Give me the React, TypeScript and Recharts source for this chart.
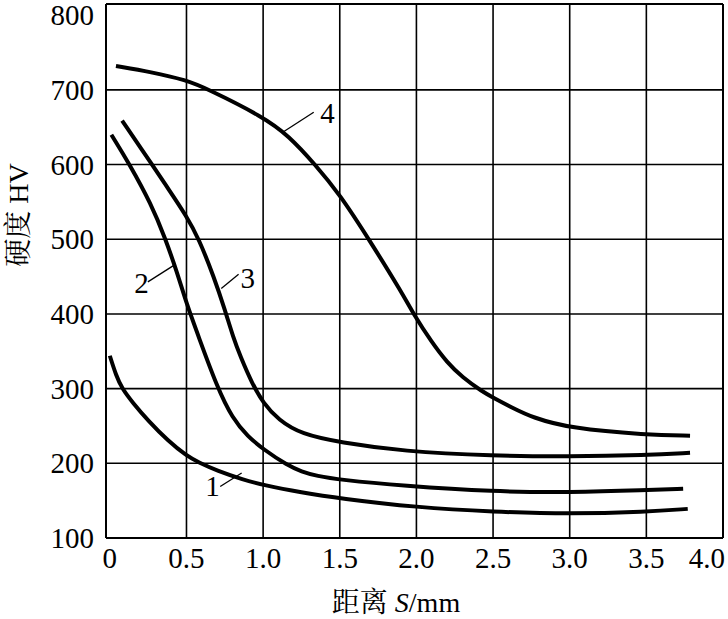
import React from 'react';
import { LineChart, Line, XAxis, YAxis, ReferenceLine, ReferenceDot } from 'recharts';

// Hardness HV vs distance S (mm)
const curve1 = [
  { s: 0, hv: 344 }, { s: 0.04, hv: 318 }, { s: 0.08, hv: 300 }, { s: 0.15, hv: 281 },
  { s: 0.25, hv: 257 }, { s: 0.38, hv: 230 }, { s: 0.5, hv: 210 }, { s: 0.58, hv: 201 },
  { s: 0.7, hv: 190 }, { s: 0.87, hv: 178 }, { s: 1.0, hv: 171 }, { s: 1.25, hv: 161 },
  { s: 1.5, hv: 153 }, { s: 2.0, hv: 141 }, { s: 2.5, hv: 135 }, { s: 3.0, hv: 132 },
  { s: 3.5, hv: 135 }, { s: 3.77, hv: 139 },
];
const curve2 = [
  { s: 0.01, hv: 640 }, { s: 0.13, hv: 600 }, { s: 0.27, hv: 547 }, { s: 0.36, hv: 502 },
  { s: 0.44, hv: 455 }, { s: 0.5, hv: 414 }, { s: 0.58, hv: 369 }, { s: 0.7, hv: 302 },
  { s: 0.8, hv: 260 }, { s: 0.9, hv: 236 }, { s: 1.0, hv: 219 }, { s: 1.16, hv: 197 },
  { s: 1.25, hv: 189 }, { s: 1.35, hv: 183 }, { s: 1.5, hv: 178 }, { s: 1.91, hv: 170 },
  { s: 2.5, hv: 162 }, { s: 3.0, hv: 161 }, { s: 3.5, hv: 164 }, { s: 3.74, hv: 166 },
];
const curve3 = [
  { s: 0.08, hv: 659 }, { s: 0.275, hv: 600 }, { s: 0.38, hv: 568 }, { s: 0.5, hv: 531 },
  { s: 0.58, hv: 501 }, { s: 0.68, hv: 449 }, { s: 0.75, hv: 406 }, { s: 0.806, hv: 368 },
  { s: 0.85, hv: 344 }, { s: 0.93, hv: 306 }, { s: 1.0, hv: 281 }, { s: 1.1, hv: 258 },
  { s: 1.25, hv: 239 }, { s: 1.5, hv: 228 }, { s: 1.91, hv: 216 }, { s: 2.5, hv: 210 },
  { s: 3.0, hv: 209 }, { s: 3.5, hv: 211 }, { s: 3.785, hv: 214 },
];
const curve4 = [
  { s: 0.04, hv: 732 }, { s: 0.27, hv: 724 }, { s: 0.5, hv: 713 }, { s: 0.63, hv: 702 },
  { s: 1.0, hv: 664 }, { s: 1.165, hv: 639 }, { s: 1.34, hv: 600 }, { s: 1.5, hv: 560 },
  { s: 1.69, hv: 500 }, { s: 1.91, hv: 427 }, { s: 1.98, hv: 400 }, { s: 2.1, hv: 362 },
  { s: 2.2, hv: 335 }, { s: 2.3, hv: 315 }, { s: 2.43, hv: 296 }, { s: 2.5, hv: 288 },
  { s: 2.62, hv: 275 }, { s: 2.76, hv: 261 }, { s: 3.0, hv: 247 }, { s: 3.5, hv: 238 },
  { s: 3.785, hv: 237 },
];

const xTicks = [0, 0.5, 1.0, 1.5, 2.0, 2.5, 3.0, 3.5, 4.0];
const xTickLabels = ['0', '0.5', '1.0', '1.5', '2.0', '2.5', '3.0', '3.5', '4.0'];
const yTicks = [100, 200, 300, 400, 500, 600, 700, 800];
const xGrid = [0.5, 1.0, 1.5, 2.0, 2.5, 3.0, 3.5];
const yGrid = [200, 300, 400, 500, 600, 700];

// curve labels and their leader lines (data coordinates)
const curveLabels = [
  { name: '1', s: 0.67, hv: 170, from: { s: 0.72, hv: 169 }, to: { s: 0.86, hv: 187 } },
  { name: '2', s: 0.206, hv: 442, from: { s: 0.248, hv: 443 }, to: { s: 0.425, hv: 466 } },
  { name: '3', s: 0.9, hv: 449, from: { s: 0.727, hv: 434 }, to: { s: 0.84, hv: 453 } },
  { name: '4', s: 1.42, hv: 669, from: { s: 1.133, hv: 644 }, to: { s: 1.33, hv: 670 } },
];

const X_MIN = -0.025;
const X_MAX = 4;
const Y_MIN = 100;
const Y_MAX = 815;

const SERIF = "'Liberation Serif', 'Times New Roman', serif";
const CJK = "'Liberation Serif', 'Noto Serif CJK SC', 'Noto Sans CJK SC', serif";

const XTick = (props: any) => {
  const { x, y, payload } = props;
  const idx = xTicks.indexOf(payload.value);
  const last = payload.value === 4;
  return (
    <text
      x={last ? x + 2 : x}
      y={y + 30}
      textAnchor={last ? 'end' : 'middle'}
      fontFamily={SERIF}
      fontSize={29}
      fill="#000"
    >
      {xTickLabels[idx]}
    </text>
  );
};

const YTick = (props: any) => {
  const { x, y, payload } = props;
  return (
    <text x={x - 12} y={y + 10} textAnchor="end" fontFamily={SERIF} fontSize={29} fill="#000">
      {payload.value}
    </text>
  );
};

const series = [curve1, curve2, curve3, curve4];

export default function App() {
  return (
    <div style={{ position: 'absolute', left: 0, top: 0, width: 728, height: 619, background: '#fff' }}>
      <LineChart width={728} height={619} margin={{ top: 4, right: 5, left: 0, bottom: 0 }}>
        <XAxis
          type="number"
          dataKey="s"
          domain={[X_MIN, X_MAX]}
          ticks={xTicks}
          tick={<XTick />}
          tickLine={false}
          tickSize={0}
          tickMargin={0}
          height={81}
          axisLine={{ stroke: '#000', strokeWidth: 2 }}
          allowDataOverflow
          label={{
            content: () => (
              <text x={396} y={612} textAnchor="middle" fontFamily={CJK} fontSize={28} fill="#000">
                距离 <tspan fontStyle="italic" fontFamily={SERIF}>S</tspan>
                <tspan fontFamily={SERIF}>/mm</tspan>
              </text>
            ),
          }}
        />
        <YAxis
          type="number"
          dataKey="hv"
          domain={[Y_MIN, Y_MAX]}
          ticks={yTicks}
          tick={<YTick />}
          tickLine={false}
          tickSize={0}
          tickMargin={0}
          width={106}
          axisLine={{ stroke: '#000', strokeWidth: 2 }}
          allowDataOverflow
          label={{
            content: () => (
              <text
                x={18}
                y={215}
                transform="rotate(-90 18 215)"
                textAnchor="middle"
                dominantBaseline="central"
                fontFamily={CJK}
                fontSize={28}
                fill="#000"
              >
                硬度 HV
              </text>
            ),
          }}
        />
        {xGrid.map((v) => (
          <ReferenceLine key={'gx' + v} x={v} stroke="#000" strokeWidth={1.6} />
        ))}
        {yGrid.map((v) => (
          <ReferenceLine key={'gy' + v} y={v} stroke="#000" strokeWidth={1.6} />
        ))}
        <ReferenceLine x={X_MAX} stroke="#000" strokeWidth={2} />
        <ReferenceLine y={Y_MAX} stroke="#000" strokeWidth={2} />
        {series.map((d, i) => (
          <Line
            key={'c' + i}
            data={d}
            dataKey="hv"
            type="basis"
            stroke="#000"
            strokeWidth={4}
            dot={false}
            isAnimationActive={false}
          />
        ))}
        {curveLabels.map((c) => (
          <ReferenceLine
            key={'ll' + c.name}
            segment={[{ x: c.from.s, y: c.from.hv }, { x: c.to.s, y: c.to.hv }]}
            stroke="#000"
            strokeWidth={1.3}
          />
        ))}
        {curveLabels.map((c) => (
          <ReferenceDot
            key={'lb' + c.name}
            x={c.s}
            y={c.hv}
            r={0}
            fill="none"
            stroke="none"
            label={{ value: c.name, position: 'center', fontSize: 29, fontFamily: SERIF, fill: '#000' }}
          />
        ))}
      </LineChart>
    </div>
  );
}
